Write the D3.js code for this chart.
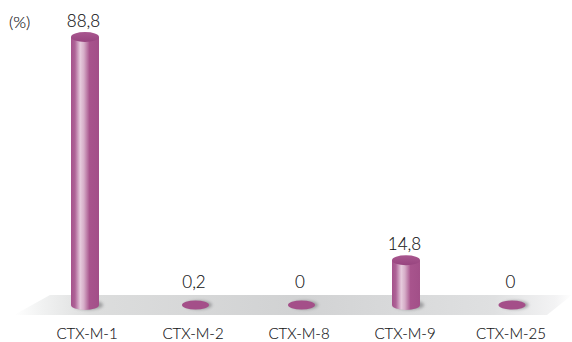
<!DOCTYPE html>
<html>
<head>
<meta charset="utf-8">
<script src="https://cdnjs.cloudflare.com/ajax/libs/d3/7.8.5/d3.min.js"></script>
<style>
html,body{margin:0;padding:0;background:#fff}
svg{display:block}
text{font-family:Lato,"Open Sans",sans-serif;font-weight:300;fill:#111113;font-size:15px;stroke:#111113;stroke-width:0.12px}
.value{font-size:17px}
.unit{font-size:16.5px}
</style>
</head>
<body>
<svg id="chart" width="572" height="342"></svg>
<script>
const categories = ["CTX-M-1", "CTX-M-2", "CTX-M-8", "CTX-M-9", "CTX-M-25"];
const values = [88.8, 0.2, 0, 14.8, 0];
const valueLabels = ["88,8", "0,2", "0", "14,8", "0"];
const unitLabel = "(%)";

const svg = d3.select("#chart");
const x = d3.scaleOrdinal().domain(categories).range([85, 195.5, 301.5, 406, 512]);
const xLabel = d3.scalePoint().domain(categories).range([87, 511]);
const y = d3.scaleLinear().domain([0, 88.8]).range([305, 37]);

const barRx = 14, capRy = 5, flatRx = 13.5, flatRy = 4.5;

const defs = svg.append("defs");

// Floor: grey band fading out at both ends
const floorGrad = defs.append("linearGradient").attr("id", "floor");
[[0, "#ffffff"], [0.05, "#f1f2f2"], [0.14, "#dcdddd"], [0.5, "#d1d2d3"], [0.86, "#dfe0e1"], [0.97, "#f3f3f4"], [1, "#ffffff"]]
  .forEach(([o, c]) => floorGrad.append("stop").attr("offset", o).attr("stop-color", c));

// Cylinder body: dark edges with a soft highlight left of centre
const bodyGrad = defs.append("linearGradient").attr("id", "body");
[[0, "#a5528b"], [0.14, "#ae6397"], [0.33, "#e6cbdd"], [0.46, "#d6adc8"], [0.66, "#a8548d"], [1, "#a24f88"]]
  .forEach(([o, c]) => bodyGrad.append("stop").attr("offset", o).attr("stop-color", c));

const capGrad = defs.append("linearGradient").attr("id", "cap").attr("x1", 0).attr("y1", 0).attr("x2", 0).attr("y2", 1);
[[0, "#a9578f"], [1, "#97447f"]]
  .forEach(([o, c]) => capGrad.append("stop").attr("offset", o).attr("stop-color", c));

defs.append("filter").attr("id", "soft").attr("x", "-40%").attr("y", "-60%").attr("width", "180%").attr("height", "220%")
  .append("feGaussianBlur").attr("stdDeviation", 1.6);

svg.append("polygon")
  .attr("points", "14,315 50,295 572,295 547,315")
  .attr("fill", "url(#floor)");

const isTall = d => y(0) - y(d.value) > 2;
const data = categories.map((c, i) => ({ category: c, value: values[i], label: valueLabels[i] }));

// Shadow cast on the floor by each mark
svg.append("g").selectAll("ellipse").data(data).join("ellipse")
  .attr("cx", d => x(d.category) + 3)
  .attr("cy", y(0))
  .attr("rx", d => isTall(d) ? barRx + 1 : flatRx)
  .attr("ry", d => isTall(d) ? capRy : flatRy)
  .attr("fill", "#77777a")
  .attr("opacity", 0.6)
  .attr("filter", "url(#soft)");

const marks = svg.append("g").selectAll("g").data(data).join("g");

marks.filter(isTall).append("path")
  .attr("fill", "url(#body)")
  .attr("d", d => {
    const cx = x(d.category);
    return `M${cx - barRx},${y(d.value)}V${y(0)}A${barRx},${capRy} 0 0 0 ${cx + barRx},${y(0)}V${y(d.value)}Z`;
  });

marks.filter(isTall).append("ellipse")
  .attr("cx", d => x(d.category))
  .attr("cy", d => y(d.value))
  .attr("rx", barRx)
  .attr("ry", capRy)
  .attr("fill", "url(#cap)");

marks.filter(d => !isTall(d)).append("ellipse")
  .attr("cx", d => x(d.category))
  .attr("cy", y(0))
  .attr("rx", flatRx)
  .attr("ry", flatRy)
  .attr("fill", "#a44f89");

svg.append("g").selectAll("text").data(data).join("text")
  .attr("class", "value")
  .attr("x", d => x(d.category) - 1.5)
  .attr("y", d => (isTall(d) ? y(d.value) - 10 : y(0) - 17))
  .attr("text-anchor", "middle")
  .text(d => d.label);

svg.append("g").selectAll("text").data(data).join("text")
  .attr("x", d => xLabel(d.category))
  .attr("y", 339)
  .attr("text-anchor", "middle")
  .text(d => d.category);

svg.append("text").attr("class", "unit").attr("x", 9).attr("y", 28).text(unitLabel);
</script>
</body>
</html>
